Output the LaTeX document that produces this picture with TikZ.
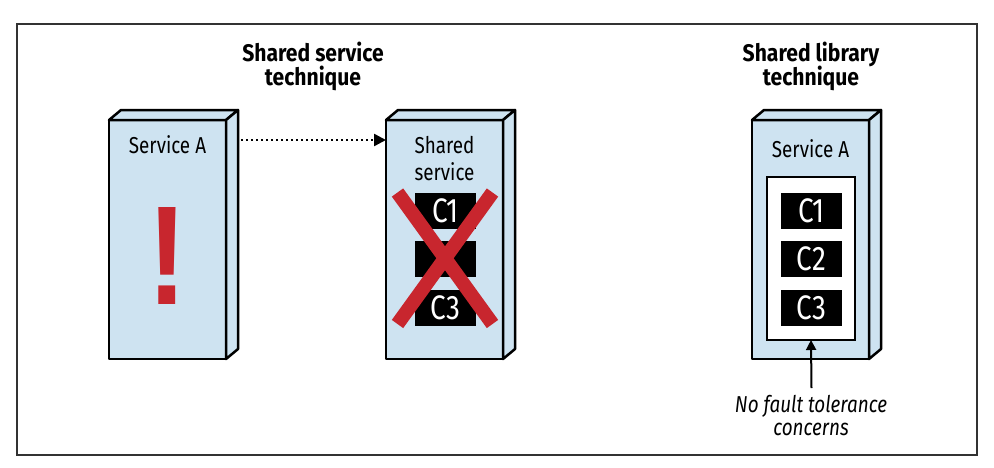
\documentclass[tikz,border=0pt]{standalone}
\usepackage{fontspec}
\setmainfont{Fira Sans}[FakeStretch=0.82]
\newfontfamily\headfont{Fira Sans}[FakeStretch=0.88]
\newfontfamily\bangfont{Liberation Sans}[FakeStretch=0.85]
\usetikzlibrary{arrows.meta}

\definecolor{boxblue}{RGB}{206,227,241}
\definecolor{alertred}{RGB}{200,38,46}
\definecolor{framegray}{RGB}{50,50,50}

\tikzset{
  frontface/.style={draw=black, fill=boxblue, line width=2.5pt, line join=round,
    minimum width=117pt, minimum height=239pt, inner sep=0pt, outer sep=0pt},
  sideface/.style={draw=black, fill=boxblue, line width=2.5pt, line join=round},
  boxlabel/.style={font=\fontsize{23}{27}\selectfont, align=center, inner sep=0pt},
  heading/.style={font=\headfont\bfseries\fontsize{24}{22}\selectfont, align=center,
    inner sep=0pt},
  compbox/.style={fill=black, text=white, minimum width=61pt, minimum height=36pt,
    inner sep=0pt, outer sep=0pt, font=\fontsize{34}{34}\selectfont},
  libframe/.style={draw=black, fill=white, line width=2pt, minimum width=88pt,
    minimum height=163pt, inner sep=0pt, outer sep=0pt},
  crossbar/.style={draw=alertred, line width=14pt},
  dotlink/.style={line width=2.5pt, dash pattern=on 2pt off 3pt,
    -{Triangle[length=12pt,width=12pt]}},
  pointer/.style={line width=2pt, -{Triangle[length=10pt,width=10pt]}},
  note/.style={font=\itshape\fontsize{23}{23}\selectfont, align=center, inner sep=0pt},
  bang/.style={font=\bangfont\bfseries\fontsize{141}{141}\selectfont, text=alertred,
    inner sep=0pt, anchor=base},
}

% front face plus top and side faces of a box seen in perspective
\newcommand{\depthfaces}[1]{%
  \filldraw[sideface] (#1.north west) -- ++(12,-10)
    -- ([shift={(12,-10)}]#1.north east) -- (#1.north east) -- cycle;
  \filldraw[sideface] (#1.north east) -- ++(12,-10)
    -- ([shift={(12,-10)}]#1.south east) -- (#1.south east) -- cycle;
}

\begin{document}
\begin{tikzpicture}[x=1pt,y=-1pt]
\useasboundingbox (0,0) rectangle (994,467);
\draw[framegray, line width=2pt] (17,24) rectangle (977,455);

% headings
\node[heading, anchor=base] (hdService) at (313,61) {Shared service};
\node[heading, anchor=base] (hdServiceB) at (313,85) {technique};
\node[heading, anchor=base] (hdLibrary) at (811,61) {Shared library};
\node[heading, anchor=base] (hdLibraryB) at (811,85) {technique};

% caller service
\node[frontface] (svcA) at (167.5,239.5) {};
\depthfaces{svcA}
\node[boxlabel, anchor=base] (svcAlbl) at (167.5,153) {Service A};
\node[bang] (bangmark) at (167.5,304) {!};

% shared service with failed components
\node[frontface] (shared) at (444.5,239.5) {};
\depthfaces{shared}
\node[boxlabel, anchor=base] (sharedlbl) at (444.5,153) {Shared};
\node[boxlabel, anchor=base] (sharedlblB) at (444.5,180) {service};
\node[compbox] (sc1) at (445.5,210.5) {C1};
\node[compbox] (sc2) at (445.5,259) {};
\node[compbox] (sc3) at (445.5,307.5) {C3};
\draw[crossbar] (397.5,192.5) -- (492.5,324);
\draw[crossbar] (492.5,192.5) -- (397.5,324);

\coordinate (linkStart) at (241,140);
\draw[dotlink] (linkStart) -- (linkStart -| shared.west);

% service embedding the shared library
\node[frontface] (libsvc) at (810.5,239.5) {};
\depthfaces{libsvc}
\node[boxlabel, anchor=base] (libsvclbl) at (810.5,157) {Service A};
\node[libframe] (lib) at (811,258.5) {};
\node[compbox] (lc1) at (811.5,210.5) {C1};
\node[compbox] (lc2) at (811.5,259) {C2};
\node[compbox] (lc3) at (811.5,307.5) {C3};

\coordinate (noteTop) at (811.5,388);
\draw[pointer] (noteTop) -- (lib.south);
\node[note, anchor=base] (noteTxt) at (811,412) {No fault tolerance};
\node[note, anchor=base] (noteTxtB) at (811,435) {concerns};
\end{tikzpicture}
\end{document}
